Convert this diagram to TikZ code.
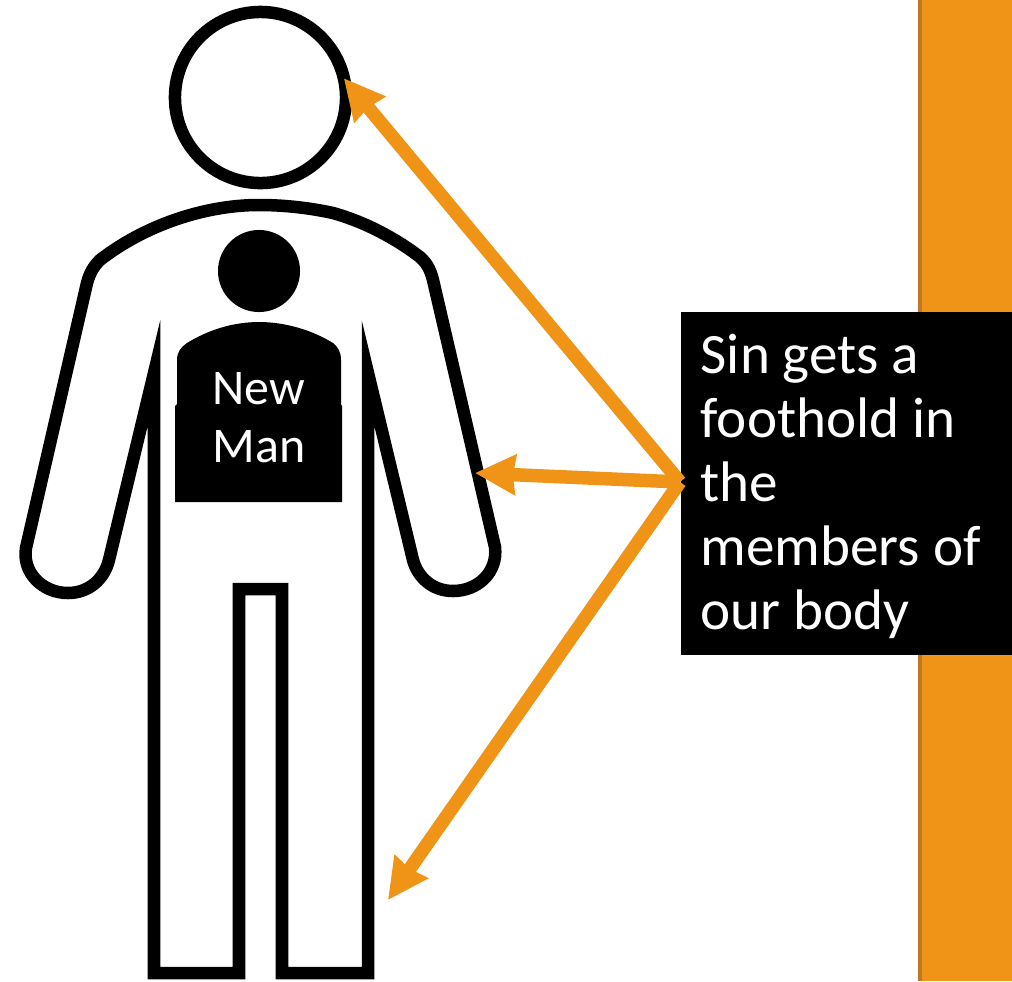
\documentclass[tikz,border=0pt]{standalone}
\usepackage{fontspec}
\setmainfont{Carlito}
\definecolor{barorange}{RGB}{240, 148, 24}
\definecolor{barshade}{RGB}{190, 120, 35}
\usetikzlibrary{
    arrows.meta,
    positioning
}
\tikzset{
    outline/.style={draw=black, line width=0.125cm, miter limit=12},
    pointer/.style={draw=barorange, line width=0.135cm, -{Stealth[length=0.4cm, width=0.39cm, inset=0.02cm]}}
}
\begin{document}
\begin{tikzpicture}[x=0.01cm, y=-0.01cm]
    \useasboundingbox (0,0) rectangle (1012,981);
    % Orange bar
    \fill[barorange] (918,0) rectangle (1012,981);
    \fill[barshade] (918,0) rectangle (922,981);

    % Figure
    \node[circle, outline, fill=white, minimum size=1.71cm, inner sep=0pt, outer sep=0pt] (skull) at (260.5,97.5) {};
    \draw[outline, fill=white] (259,205) .. controls (285,205) and (310,208) .. (333,213)
        .. controls (365,222) and (395,238) .. (420,257)
        .. controls (428,264) and (431,272) .. (433,280) -- (495,547)
        .. controls (498,572) and (478,591) .. (453,591)
        .. controls (433,591) and (418,578) .. (413,560) -- (368,373) -- (368,973)
        -- (282,973) -- (282,589) -- (239,589) -- (239,973) -- (154,973) -- (154,373)
        -- (109,560) .. controls (104,580) and (88,593) .. (68,593)
        .. controls (42,593) and (22,572) .. (26,548) -- (87,283)
        .. controls (90,272) and (94,266) .. (100,260)
        .. controls (145,225) and (205,205) .. (259,205) -- cycle;
    \node[circle, fill=black, minimum size=0.82cm, inner sep=0pt] (heart) at (259,271) {};

    % New man
    \fill[black] (177,404) -- (177,360) .. controls (177,352) and (181,347) .. (187,343)
        .. controls (208,330) and (233,322) .. (259,322)
        .. controls (285,322) and (312,330) .. (333,343)
        .. controls (338,347) and (341,352) .. (341,360) -- (341,404) -- (342,406) -- (342,502) -- (175,502) -- (175,406) -- cycle;
    \node[text=white, anchor=west, align=left, inner sep=0pt, font=\fontsize{14.2}{16.5}\selectfont] (newman) at (212,418) {New\\Man};

    % Label
    \node[fill=black, text=white, anchor=north west, minimum width=3.31cm, minimum height=3.43cm, inner sep=0pt, outer sep=0pt] (sinbox) at (681,312) {};
    \node[text=white, anchor=west, align=left, inner sep=0pt, font=\fontsize{16.25}{18.2}\selectfont] (sintext) at (700,486) {Sin gets a\\foothold in\\the\\members of\\our body};

    % Pointers
    \coordinate (source) at (680,482);
    \coordinate (arm) at (475,473);
    \coordinate (leg) at (388,900);
    \draw[pointer] (source) -- (skull.13);
    \draw[pointer] (source) -- (arm);
    \draw[pointer] (source) -- (leg);
\end{tikzpicture}
\end{document}
